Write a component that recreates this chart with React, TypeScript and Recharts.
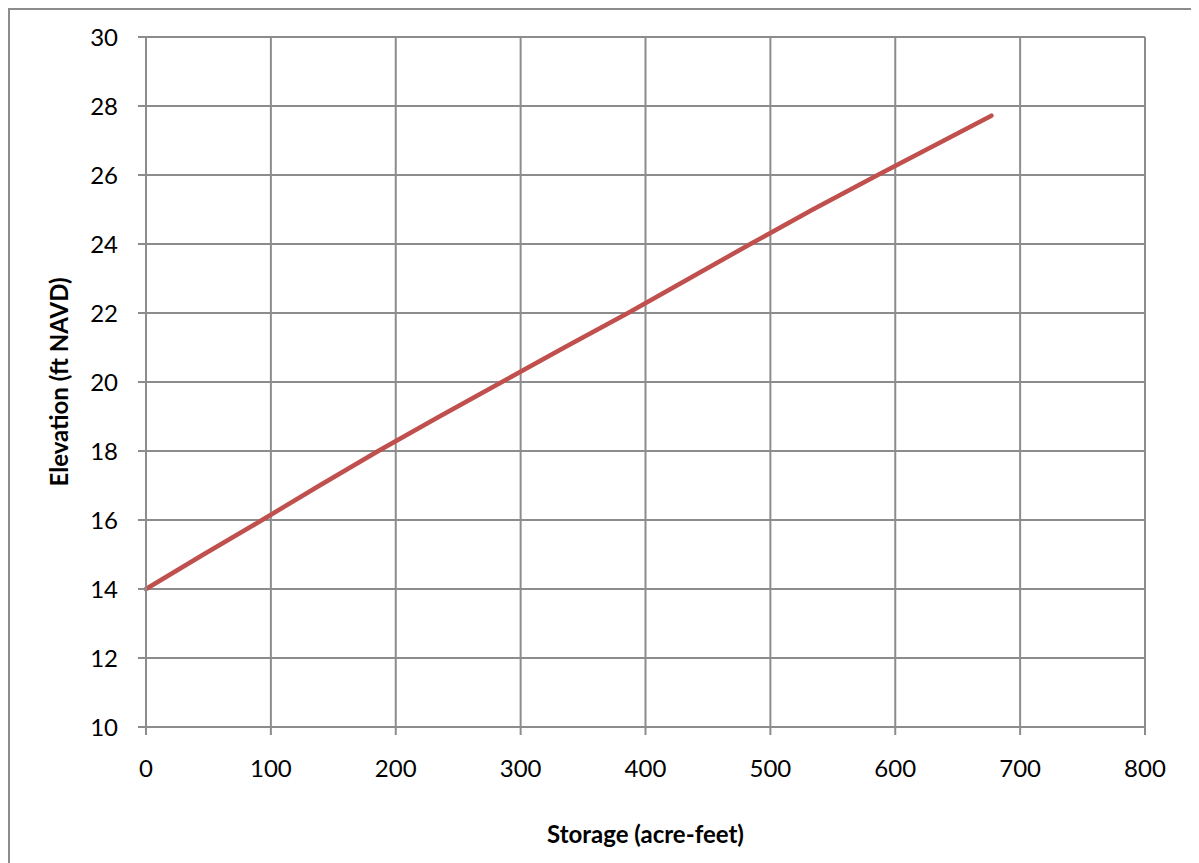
import {
  CartesianGrid, Label, Line, LineChart, XAxis, YAxis,
} from "recharts";

// stage-storage curve
const storage = [0, 46, 93, 139, 186, 235, 285, 335, 386, 435, 484, 534, 586, 639, 677];
const elevation = [14, 15, 16, 17, 18, 19, 20, 21, 22, 23, 24, 25, 26, 27, 27.72];
const xTicks = [0, 100, 200, 300, 400, 500, 600, 700, 800];
const yTicks = [10, 12, 14, 16, 18, 20, 22, 24, 26, 28, 30];

const data = storage.map((s, i) => ({ storage: s, elevation: elevation[i] }));

const font = "Lato, 'Open Sans', sans-serif";
const grid = "#8c8c8c";

export default function App() {
  return (
    <div
      style={{
        width: 1199,
        height: 863,
        borderLeft: `2px solid ${grid}`,
        borderTop: `2px solid ${grid}`,
        background: "#fff",
      }}
    >
      <LineChart
        width={1189}
        height={853}
        data={data}
        margin={{ top: 27, right: 54, left: 0, bottom: 0 }}
      >
        <CartesianGrid stroke={grid} strokeWidth={2} />
        <XAxis
          type="number"
          dataKey="storage"
          domain={[0, 800]}
          ticks={xTicks}
          interval={0}
          height={136}
          tickSize={8}
          tickMargin={25}
          axisLine={{ stroke: grid, strokeWidth: 2 }}
          tickLine={{ stroke: grid, strokeWidth: 2 }}
          tick={{ fill: "#000", fontSize: 24, fontFamily: font }}
        >
          <Label
            content={({ viewBox }: any) => (
              <text
                x={viewBox.x + viewBox.width / 2}
                y={viewBox.y + 106}
                textAnchor="middle"
                dominantBaseline="central"
                fontFamily={font}
                fontSize={24}
                fontWeight="bold"
                fill="#000"
              >
                Storage (acre-feet)
              </text>
            )}
          />
        </XAxis>
        <YAxis
          type="number"
          domain={[10, 30]}
          ticks={yTicks}
          interval={0}
          width={136}
          tickSize={8}
          tickMargin={20}
          axisLine={{ stroke: grid, strokeWidth: 2 }}
          tickLine={{ stroke: grid, strokeWidth: 2 }}
          tick={{ fill: "#000", fontSize: 24, fontFamily: font }}
        >
          <Label
            content={({ viewBox }: any) => {
              const cx = viewBox.x + 48;
              const cy = viewBox.y + viewBox.height / 2;
              return (
                <text
                  x={cx}
                  y={cy}
                  transform={`rotate(-90 ${cx} ${cy})`}
                  textAnchor="middle"
                  dominantBaseline="central"
                  fontFamily={font}
                  fontSize={24}
                  fontWeight="bold"
                  fill="#000"
                >
                  Elevation (ft NAVD)
                </text>
              );
            }}
          />
        </YAxis>
        <Line
          type="linear"
          dataKey="elevation"
          stroke="#C0504D"
          strokeWidth={4.5}
          strokeLinecap="round"
          dot={false}
          activeDot={false}
          isAnimationActive={false}
        />
      </LineChart>
    </div>
  );
}
